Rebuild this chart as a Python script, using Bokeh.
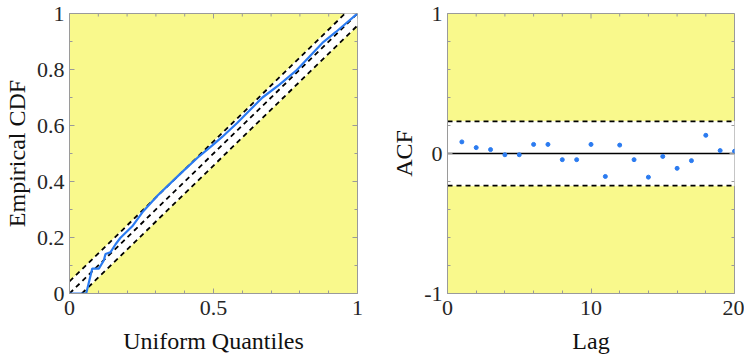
import numpy as np
from bokeh.plotting import figure
from bokeh.layouts import row
from bokeh.models import Range1d, FixedTicker
from bokeh.embed import file_html
from bokeh.resources import INLINE

# ---------------- data ----------------
# Empirical CDF vs uniform quantiles
ecdf_x = [0, 0.058, 0.079, 0.102, 0.119, 0.125, 0.142, 0.160, 0.177, 0.218, 0.253,
          0.306, 0.387, 0.450, 0.497, 0.531, 0.583, 0.612, 0.670, 0.728, 0.786,
          0.832, 0.878, 0.925, 1.0]
ecdf_y = [0, 0.0, 0.089, 0.089, 0.118, 0.141, 0.147, 0.176, 0.199, 0.240, 0.290,
          0.350, 0.430, 0.490, 0.530, 0.560, 0.610, 0.640, 0.700, 0.745, 0.795,
          0.845, 0.895, 0.934, 1.0]
ks_band = 0.043

# Autocorrelation
lags = list(range(1, 21))
acf = [0.083, 0.042, 0.028, -0.009, -0.009, 0.065, 0.065, -0.044, -0.044, 0.065,
       -0.164, 0.060, -0.044, -0.169, -0.021, -0.106, -0.051, 0.130, 0.021, 0.016]
acf_bound = 0.23

# ticks
left_x_ticks = [0, 0.5, 1]
left_x_labels = ["0", "0.5", "1"]
left_x_minor = [0.1, 0.2, 0.3, 0.4, 0.6, 0.7, 0.8, 0.9]
left_y_ticks = [0, 0.2, 0.4, 0.6, 0.8, 1]
left_y_labels = ["0", "0.2", "0.4", "0.6", "0.8", "1"]
left_y_minor = [0.1, 0.3, 0.5, 0.7, 0.9]
right_x_ticks = [0, 10, 20]
right_x_labels = ["0", "10", "20"]
right_x_minor = [2, 4, 6, 8, 12, 14, 16, 18]
right_y_ticks = [-1, 0, 1]
right_y_labels = ["-1", "0", "1"]
right_y_minor = [-0.8, -0.6, -0.4, -0.2, 0.2, 0.4, 0.6, 0.8]

YELLOW = "#F9F98C"
WHITE = "#ffffff"
BLUE = "#2B7BF0"
FRAME = "#9A9A9A"
TXT = "#262626"
FONT = "Liberation Serif"
FW, FH = 288, 280
MAJ_IN, MIN_IN = 5, 3


def make_fig(fw, xr, yr, mbl, mbr):
    p = figure(frame_width=fw, frame_height=FH, x_range=Range1d(*xr), y_range=Range1d(*yr),
               output_backend="svg", toolbar_location=None,
               min_border_left=mbl, min_border_right=mbr, min_border_top=13, min_border_bottom=40)
    p.background_fill_color = YELLOW
    p.grid.grid_line_color = None
    return p


def style(p, xr, yr, xt, xl, xm, yt, yl, ym, xlabel, ylabel, fw):
    p.outline_line_color = FRAME
    p.outline_line_width = 1
    for ax, t, l, m in ((p.xaxis[0], xt, xl, xm), (p.yaxis[0], yt, yl, ym)):
        ax.ticker = FixedTicker(ticks=t, minor_ticks=m)
        ax.major_label_overrides = {k: v for k, v in zip(t, l)}
        ax.major_label_text_font = FONT
        ax.major_label_text_font_size = "22px"
        ax.major_label_text_color = TXT
        ax.axis_label_text_font = FONT
        ax.axis_label_text_font_size = "24px"
        ax.axis_label_text_font_style = "normal"
        ax.axis_label_text_color = "#111111"
        ax.axis_line_color = FRAME
        ax.major_tick_line_color = FRAME
        ax.minor_tick_line_color = FRAME
        ax.major_tick_in = MAJ_IN
        ax.major_tick_out = 0
        ax.minor_tick_in = MIN_IN
        ax.minor_tick_out = 0
    p.xaxis[0].major_label_standoff = 7
    p.xaxis[0].axis_label_standoff = 10
    p.yaxis[0].major_label_standoff = 5
    p.yaxis[0].axis_label_standoff = 4
    p.xaxis[0].axis_label = xlabel
    p.yaxis[0].axis_label = ylabel
    # mirrored tick marks on the top and right edges
    x0, x1 = xr
    y0, y1 = yr
    dy = (y1 - y0) / FH
    dx = (x1 - x0) / fw
    p.segment(x0=xt, y0=[y1] * len(xt), x1=xt, y1=[y1 - MAJ_IN * dy] * len(xt), line_color=FRAME)
    p.segment(x0=xm, y0=[y1] * len(xm), x1=xm, y1=[y1 - MIN_IN * dy] * len(xm), line_color=FRAME)
    p.segment(x0=[x1] * len(yt), y0=yt, x1=[x1 - MAJ_IN * dx] * len(yt), y1=yt, line_color=FRAME)
    p.segment(x0=[x1] * len(ym), y0=ym, x1=[x1 - MIN_IN * dx] * len(ym), y1=ym, line_color=FRAME)


# ---------------- left plot ----------------
p1 = make_fig(FW, (0, 1), (0, 1), 64, 30)
d = ks_band
p1.patch(x=[0, 1 - d, 1, 1, d, 0], y=[d, 1, 1, 1 - d, 0, 0],
         fill_color=WHITE, line_color=WHITE, line_width=0.5)
p1.line([0, 1 - d], [d, 1], line_color="black", line_width=1.8, line_dash="5 4")
p1.line([0, 1], [0, 1], line_color="black", line_width=1.8, line_dash="5 4")
p1.line([d, 1], [0, 1 - d], line_color="black", line_width=1.8, line_dash="5 4")
p1.line(ecdf_x, ecdf_y, line_color=BLUE, line_width=2.2)
style(p1, (0, 1), (0, 1), left_x_ticks, left_x_labels, left_x_minor,
      left_y_ticks, left_y_labels, left_y_minor, "Uniform Quantiles", "Empirical CDF", FW)

# ---------------- right plot ----------------
p2 = make_fig(FW - 1, (0, 20), (-1, 1), 60, 10)
p2.quad(left=[0], right=[20], bottom=[-acf_bound], top=[acf_bound],
        fill_color=WHITE, line_color=WHITE, line_width=0.5)
p2.line([0, 20], [acf_bound, acf_bound], line_color="black", line_width=1.8, line_dash="5 4")
p2.line([0, 20], [-acf_bound, -acf_bound], line_color="black", line_width=1.8, line_dash="5 4")
p2.line([0, 20], [0, 0], line_color="black", line_width=1.6)
p2.scatter(lags, acf, size=4, color=BLUE)
style(p2, (0, 20), (-1, 1), right_x_ticks, right_x_labels, right_x_minor,
      right_y_ticks, right_y_labels, right_y_minor, "Lag", "ACF", FW - 1)

layout = row(p1, p2, spacing=0)
open("out.html", "w").write(file_html(layout, INLINE))
